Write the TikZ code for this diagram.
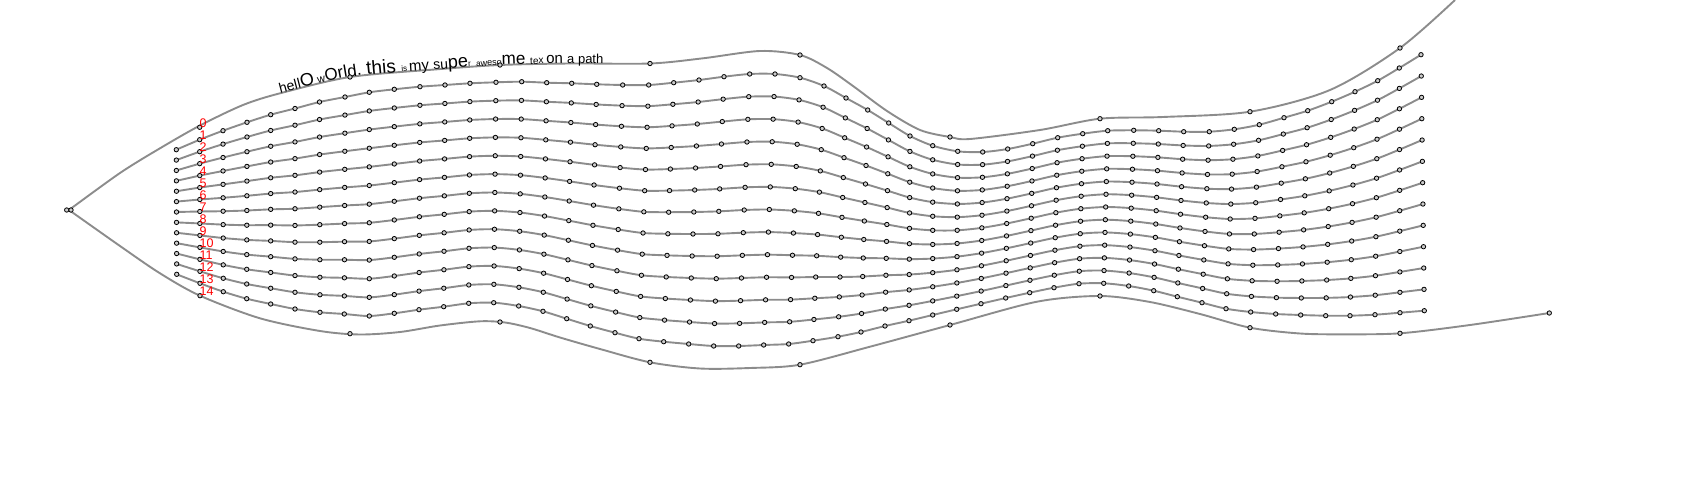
\documentclass[tikz,border=0pt]{standalone}
\usepackage{fontspec}
\setmainfont{Liberation Sans}
\usetikzlibrary{decorations.text}
\newcommand\szSix{\fontsize{6}{6}\selectfont}
\newcommand\szEight{\fontsize{8}{8}\selectfont}
\newcommand\szNine{\fontsize{9}{9}\selectfont}
\newcommand\szTen{\fontsize{10}{10}\selectfont}
\newcommand\szEleven{\fontsize{11}{11}\selectfont}
\newcommand\szThirteen{\fontsize{13}{13}\selectfont}
\newcommand\szFourteen{\fontsize{14}{14}\selectfont}
\newcommand\szFifteen{\fontsize{15}{15}\selectfont}
\newcommand\szSeventeen{\fontsize{17}{17}\selectfont}
\newcommand\szEighteen{\fontsize{18}{18}\selectfont}
\newcommand\szNineteen{\fontsize{19}{19}\selectfont}
\newcommand\szTwenty{\fontsize{20}{20}\selectfont}
\begin{document}
\begin{tikzpicture}[x=1pt,y=-1pt,
  curve/.style={draw=black!45, line width=1.9pt},
  dotmark/.style={draw=black, fill=black!20, line width=0.8pt},
  lbl/.style={text=red, font=\fontsize{12.5}{12.5}\selectfont, anchor=base west, inner sep=0pt}]
\useasboundingbox (0,0) rectangle (1700,500);
\clip (0,0) rectangle (1700,500);
\def\pairs{176.3/149.7/176.7/274.3, 199.7/139.7/200/283.3, 223/130.7/223.3/291.7, 247/122.3/246.7/298.7,
270.7/114.7/270.7/304, 295/108.5/295/309, 319.5/102/320/312.3, 345/97/344.3/314, 369.3/92.3/369.3/316,
394.3/89.3/394.3/313.3, 420/86.7/419/309.7, 445/85/443.7/306.7, 470/83.3/468.7/303.3, 496/82.3/493.7/302.7,
521.7/81.7/518.7/306, 546.7/82.7/543/311.3, 571.7/83.3/566.7/318.7, 596.7/84.3/590.3/326, 622.7/85/615/332.7,
648.7/85/639/338.7, 673.7/82.7/663.7/341.7, 699/80/688.7/344, 724/76.7/713.7/346, 749.7/74/738.7/346,
775/74/763.7/345, 800/77.7/788.7/344, 824/86/813/340.7, 846/98/838/336.7, 867.7/110/861/332,
888.7/123/885/326, 910/136/909/320.7, 932.7/145.7/932.7/315, 957.7/151.3/956.7/309.3, 982.7/152/981/303.7,
1007.7/149/1005.7/298, 1032.7/143.7/1029.7/292.7, 1057.7/137.7/1054/287.7, 1082.7/133.7/1079/283.7,
1107.7/130.7/1103.7/283.3, 1133.7/130.3/1128.7/286, 1158.7/130.7/1153.7/290.7, 1183.7/131.7/1177.3/296.7,
1209.3/131.7/1202/302.7, 1234.3/129.3/1226/308.7, 1259.3/124.7/1250.7/312, 1284/117.7/1275.7/314,
1307.7/110.7/1300.7/315, 1331.7/101.7/1325.7/315.7, 1355/91.7/1350/315.7, 1377.7/80.7/1375/314.7,
1399.3/68/1400/312.7, 1421/54.7/1424.3/310.7}
% inner curves
\foreach \k in {0,...,12}{
  \gdef\ptlist{}
  \foreach \ax/\ay/\bx/\by in \pairs{
    \pgfmathsetmacro\px{\ax+(\bx-\ax)*\k/12}
    \pgfmathsetmacro\py{\ay+(\by-\ay)*\k/12}
    \xdef\ptlist{\ptlist(\px,\py) }
  }
  \edef\tmpcmd{\noexpand\draw[curve] plot[smooth] coordinates {\ptlist};}
  \tmpcmd
  \foreach \ax/\ay/\bx/\by in \pairs{
    \pgfmathsetmacro\px{\ax+(\bx-\ax)*\k/12}
    \pgfmathsetmacro\py{\ay+(\by-\ay)*\k/12}
    \draw[dotmark] (\px,\py) circle[radius=2.2pt];
  }
}
% outer upper curve with text
\draw[curve, postaction={decorate, decoration={text along path, text align={left indent=243pt},
  text={|\szFourteen|hell|\szEighteen|O|\szEleven| w|\szSeventeen|Orld. |\szNineteen|this |\szEight|is |\szFifteen|my |\szFourteen|su|\szEighteen|pe|\szEight|r|\szTwenty| |\szEight|a|\szNine|weso|\szSeventeen|me |\szTen|tex |\szFifteen|on |\szThirteen|a path}}}]
  plot[smooth] coordinates {(69,210) (120,173) (160,148.3) (200,125.5) (243,105) (280,93.3) (350,77)
  (437,69.3) (500,65) (570,63.5) (650,63.5) (703,58.3) (760,51) (800,55) (827,68) (853,86) (887,111)
  (920,130) (950,137) (970,139) (1040,130) (1100,118.7) (1163,117) (1250,111.7) (1330,90) (1400,48) (1455,0)};
% outer lower curve
\draw[curve] plot[smooth] coordinates {(69,210) (120,246) (160,273.3) (200,295.7) (260,318.3) (320,331)
  (360,334.5) (400,332) (440,325.5) (480,321.3) (505,322.5) (530,328) (560,337.5) (600,349) (650,362.3)
  (700,368.5) (750,368) (800,364.7) (870,346.7) (950,325) (1037,301.7) (1100,296) (1150,302) (1200,314)
  (1250,327.7) (1300,333.5) (1343,334.3) (1400,333.3) (1470,325) (1549.3,313)};
% marks on the outer curves
\foreach \mx/\my in {66.7/210, 199.7/127.3, 350/77, 500/65, 650/63.5, 800/55, 950/137, 1100/118.7, 1250/111.7, 1400/48,
  71/210, 200/295.7, 350/333.7, 500/322, 650/362.3, 800/364.7, 950/325, 1100/296, 1250/327.7, 1400/333.3, 1549.3/313}
  \draw[dotmark] (\mx,\my) circle[radius=2.2pt];
% labels
\foreach \k in {0,...,14}
  \node[lbl] (L\k) at (199.5,{127.3+\k*12.03}) {\k};
\end{tikzpicture}
\end{document}
